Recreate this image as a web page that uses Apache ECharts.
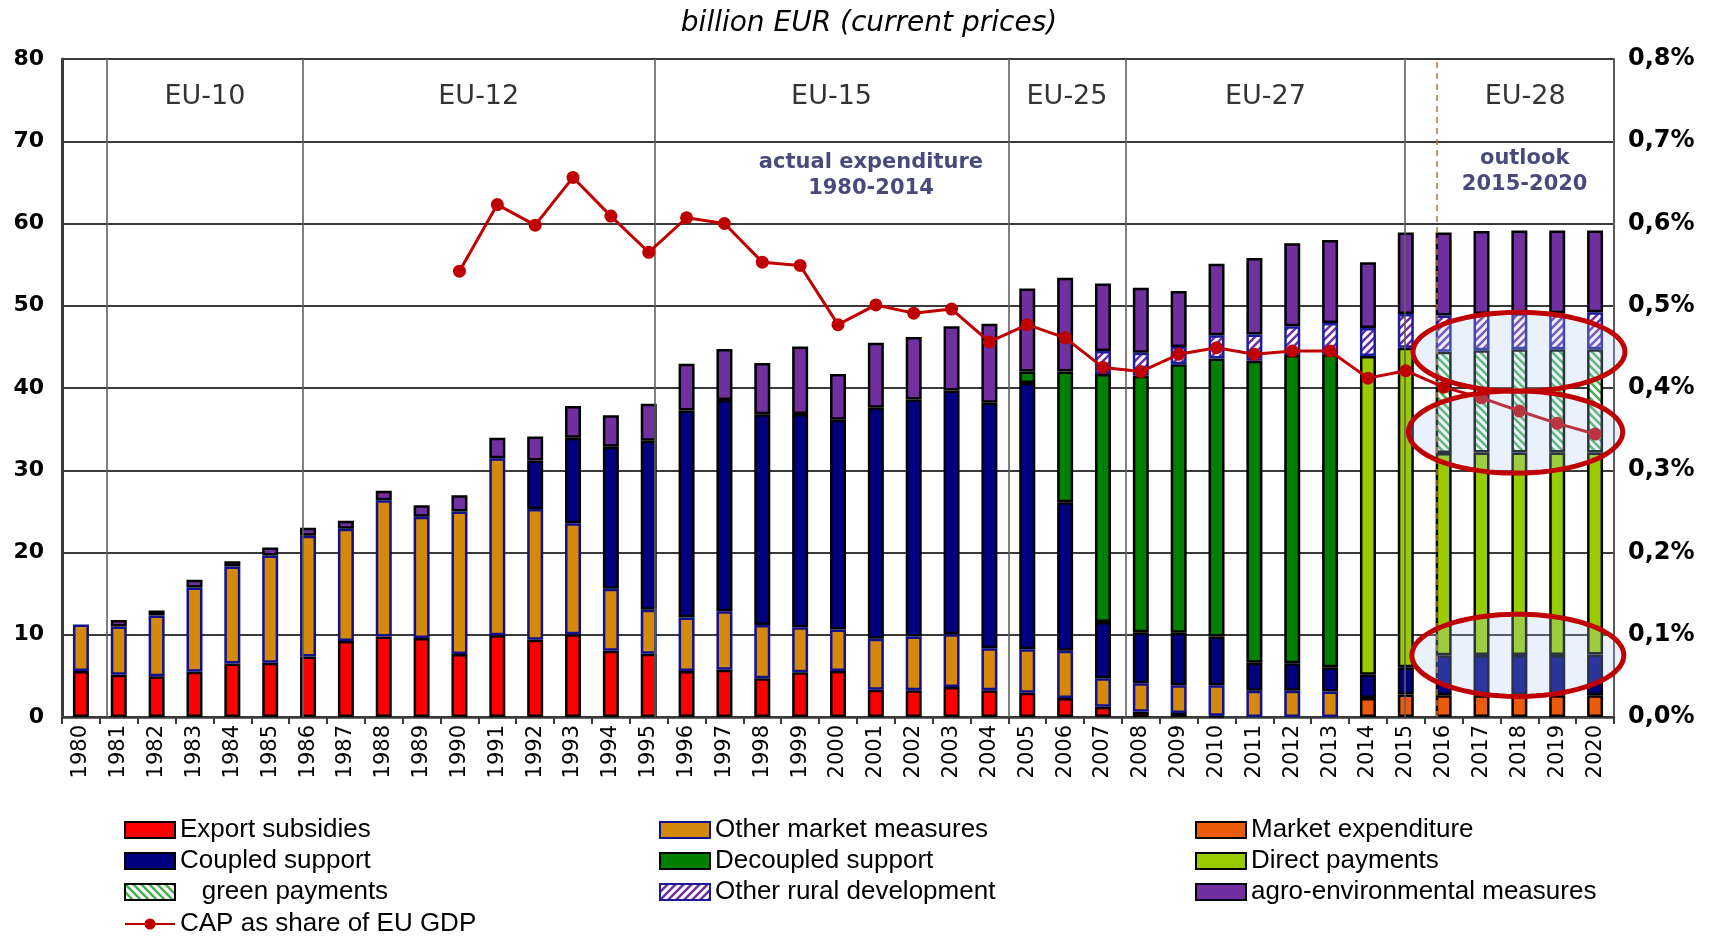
<!DOCTYPE html>
<html><head><meta charset="utf-8">
<script src="https://cdn.jsdelivr.net/npm/echarts@6/dist/echarts.min.js"></script>
<style>html,body{margin:0;padding:0;background:#fff}#c{width:1714px;height:936px}</style>
</head><body><div id="c"></div>
<script>
const years = ['1980','1981','1982','1983','1984','1985','1986','1987','1988','1989',
  '1990','1991','1992','1993','1994','1995','1996','1997','1998','1999',
  '2000','2001','2002','2003','2004','2005','2006','2007','2008','2009',
  '2010','2011','2012','2013','2014','2015','2016','2017','2018','2019','2020'];

const exportSubsidies = [5.6,5.15,4.95,5.5,6.5,6.6,7.35,9.25,9.8,9.6,
  7.65,9.95,9.4,10.05,8.05,7.7,5.6,5.75,4.7,5.45,
  5.6,3.3,3.25,3.65,3.25,2.95,2.3,1.25,0.65,0.5,
  0.15,null,null,null,null,null,null,null,null,null,null];
const marketExpenditure = [null,null,null,null,null,null,null,null,null,null,
  null,null,null,null,null,null,null,null,null,null,
  null,null,null,null,null,null,null,null,null,null,
  null,null,null,null,2.3,2.75,2.65,2.65,2.65,2.65,2.65];
const otherMarketMeasures = [5.65,5.85,7.4,10.25,11.8,13.05,14.7,13.65,16.55,14.75,
  17.35,21.5,15.9,13.5,7.55,5.35,6.5,7.1,6.5,5.45,
  5.05,6.2,6.55,6.4,5.1,5.3,5.75,3.45,3.45,3.35,
  3.7,3.2,3.2,3.1,null,null,null,null,null,null,null];
const coupledSupport = [null,null,null,null,null,null,null,null,null,null,
  null,null,5.9,10.4,17.25,20.55,25.15,25.7,25.6,25.95,
  25.5,28.1,28.8,29.65,29.85,32.35,18.05,6.85,6.2,6.4,
  5.95,3.4,3.35,2.95,2.85,3.3,4.85,4.9,4.9,4.9,4.95];
const decoupledSupport = [null,null,null,null,null,null,null,null,null,null,
  null,null,null,null,null,null,null,null,null,null,
  null,null,null,null,null,1.4,15.9,30.15,31.2,32.65,
  33.8,36.7,37.45,38.05,null,null,null,null,null,null,null];
const directPayments = [null,null,null,null,null,null,null,null,null,null,
  null,null,null,null,null,null,null,null,null,null,
  null,null,null,null,null,null,null,null,null,null,
  null,null,null,null,38.75,38.85,24.6,24.6,24.6,24.6,24.55];
const greenPayments = [null,null,null,null,null,null,null,null,null,null,
  null,null,null,null,null,null,null,null,null,null,
  null,null,null,null,null,null,null,null,null,null,
  null,null,null,null,null,null,12.3,12.45,12.55,12.55,12.55];
const otherRuralDev = [null,null,null,null,null,null,null,null,null,null,
  null,null,null,null,null,null,null,null,null,null,
  null,null,null,null,null,null,null,2.8,2.8,2.1,
  2.8,3.2,3.5,3.8,3.4,4.1,4.4,4.4,4.4,4.4,4.5];
const agroEnv = [null,0.8,0.6,0.95,0.65,0.95,0.95,0.95,1.15,1.4,
  1.95,2.5,2.9,3.85,3.85,4.5,5.7,6.2,6.25,8.2,
  5.55,7.9,7.6,7.8,9.6,10.1,11.4,8.2,7.9,6.8,
  8.7,9.3,10.1,10.1,8.0,9.9,10.1,10.1,10.05,10.05,9.95];
const capShareGDP = [null,null,null,null,null,null,null,null,null,null,
  0.542,0.623,0.598,0.656,0.609,0.565,0.607,0.600,0.553,0.549,
  0.477,0.501,0.491,0.496,0.456,0.477,0.461,0.425,0.420,0.441,
  0.449,0.441,0.445,0.445,0.412,0.421,0.401,0.388,0.372,0.357,0.344];

// enlargement periods (boundaries in category-index units)
const periodNames = ['EU-10','EU-12','EU-15','EU-25','EU-27','EU-28'];
const periodBounds = [1.19, 6.36, 15.66, 25.0, 28.1, 35.48, 41];
const outlookStart = 36.31;
const leftTicks = [0,10,20,30,40,50,60,70,80];

// ---------- styling ----------
const FONT = 'DejaVu Sans';
function hatch(fg, dir) {
  const c = document.createElement('canvas');
  c.width = 8; c.height = 8;
  const g = c.getContext('2d');
  g.fillStyle = '#ffffff'; g.fillRect(0, 0, 8, 8);
  g.strokeStyle = fg; g.lineWidth = 2.6;
  g.beginPath();
  if (dir === '/') {
    g.moveTo(-4, 4); g.lineTo(4, -4);
    g.moveTo(0, 8); g.lineTo(8, 0);
    g.moveTo(4, 12); g.lineTo(12, 4);
  } else {
    g.moveTo(-4, 4); g.lineTo(4, 12);
    g.moveTo(0, 0); g.lineTo(8, 8);
    g.moveTo(4, -4); g.lineTo(12, 4);
  }
  g.stroke();
  return c;
}
const greenHatch = { image: hatch('#4CAF50', '\\'), repeat: 'repeat' };
const purpleHatch = { image: hatch('#7030A0', '/'), repeat: 'repeat' };

function barSeries(name, data, color, border) {
  return {
    name, type: 'bar', stack: 'cap', data,
    barWidth: 16,
    itemStyle: { color, borderColor: border || '#000000', borderWidth: 2.5 },
    emphasis: { disabled: true }
  };
}

const chart = echarts.init(document.getElementById('c'), null, { renderer: 'canvas' });

const helperData = periodNames.map((n, i) => {
  const a = (i === periodNames.length - 1) ? outlookStart : periodBounds[i];
  const b = periodBounds[i + 1];
  return { value: [(a + b) / 2, 75.4], name: n,
    label: { fontSize: 27, color: '#000', fontFamily: FONT } };
});
helperData.push({ value: [21.37, 65.8], name: 'actual expenditure\n1980-2014',
  label: { fontSize: 21, fontWeight: 'bold', color: '#1C1C5C', fontFamily: FONT, lineHeight: 26 } });
helperData.push({ value: [38.64, 66.3], name: 'outlook\n2015-2020',
  label: { fontSize: 21, fontWeight: 'bold', color: '#1C1C5C', fontFamily: FONT, lineHeight: 26 } });

const ellipses = [[38.49, 44.4, 2.8, 4.8], [38.4, 34.65, 2.83, 5.0], [38.46, 7.5, 2.8, 5.0]];

const sepLines = periodBounds.slice(1, -1).map(v => ({ xAxis: v }));
sepLines.unshift({ xAxis: periodBounds[0] });
sepLines.push({ xAxis: outlookStart, lineStyle: { color: '#B87333', type: [6, 5], width: 1.5 } });

const legendText = { fontFamily: 'Liberation Sans', fontSize: 26, color: '#000', lineHeight: 26 };
const legendBase = {
  orient: 'vertical', icon: 'rect', itemWidth: 50, itemHeight: 16, itemGap: 5,
  selectedMode: false, padding: 0, textStyle: legendText
};

chart.setOption({
  animation: false,
  backgroundColor: '#ffffff',
  title: {
    text: 'billion EUR (current prices)', left: 864, top: 5, textAlign: 'center',
    textStyle: { fontFamily: FONT, fontStyle: 'italic', fontWeight: 'normal', fontSize: 28, color: '#000' }
  },
  legend: [
    Object.assign({}, legendBase, { left: 124, top: 817,
      data: ['Export subsidies', 'Coupled support', 'green payments'],
      formatter: n => n === 'green payments' ? '   ' + n : n }),
    { orient: 'vertical', left: 124, top: 911, padding: 0, selectedMode: false,
      itemWidth: 50, itemHeight: 14, textStyle: legendText,
      data: ['CAP as share of EU GDP'] },
    Object.assign({}, legendBase, { left: 659, top: 817,
      data: ['Other market measures', 'Decoupled support', 'Other rural development'] }),
    Object.assign({}, legendBase, { left: 1195, top: 817,
      data: ['Market expenditure', 'Direct payments', 'agro-environmental measures'] })
  ],
  grid: { left: 62, right: 100, top: 59, bottom: 219, containLabel: false },
  xAxis: [{
    type: 'category', data: years, boundaryGap: true,
    axisLine: { lineStyle: { color: '#3a3a3a', width: 2.5 } },
    axisTick: { show: true, length: 7, lineStyle: { color: '#3a3a3a', width: 2 } },
    axisLabel: { rotate: 90, fontFamily: FONT, fontSize: 21, color: '#000', margin: 8 },
    splitLine: { show: false }
  }, {
    type: 'value', min: 0, max: 41, show: false
  }],
  yAxis: [{
    type: 'value', min: 0, max: 80, interval: 10,
    axisLine: { show: true, lineStyle: { color: '#3a3a3a', width: 3 } },
    axisTick: { show: false },
    axisLabel: { fontFamily: FONT, fontWeight: 'bold', fontSize: 22, color: '#000', margin: 18,
      customValues: leftTicks },
    splitLine: { show: true, lineStyle: { color: '#3a3a3a', width: 2 } }
  }, {
    type: 'value', min: 0, max: 0.8, interval: 0.1, position: 'right',
    axisLine: { show: true, lineStyle: { color: '#5a5a5a', width: 2 } },
    axisTick: { show: false },
    axisLabel: { fontFamily: FONT, fontWeight: 'bold', fontSize: 24, color: '#000', margin: 14,
      formatter: v => v.toFixed(1).replace('.', ',') + '%' },
    splitLine: { show: false }
  }],
  series: [
    barSeries('Export subsidies', exportSubsidies, '#FF0000', '#000000'),
    barSeries('Market expenditure', marketExpenditure, '#EA5B0C', '#000000'),
    barSeries('Other market measures', otherMarketMeasures, '#D4890A', '#10108A'),
    barSeries('Coupled support', coupledSupport, '#000080', '#000000'),
    barSeries('Decoupled support', decoupledSupport, '#008000', '#000000'),
    barSeries('Direct payments', directPayments, '#99CC00', '#000000'),
    barSeries('green payments', greenPayments, greenHatch, '#000000'),
    barSeries('Other rural development', otherRuralDev, purpleHatch, '#1C1C9C'),
    barSeries('agro-environmental measures', agroEnv, '#7030A0', '#000000'),
    {
      name: 'CAP as share of EU GDP', type: 'line', yAxisIndex: 1, data: capShareGDP,
      symbol: 'circle', symbolSize: 13, z: 5,
      lineStyle: { color: '#C00000', width: 3 },
      itemStyle: { color: '#C00000' },
      emphasis: { disabled: true }
    },
    {
      name: 'helper', type: 'scatter', xAxisIndex: 1, yAxisIndex: 0,
      data: helperData, symbolSize: 0, silent: true, z: 1,
      label: { show: true, position: 'inside', formatter: p => p.name },
      markLine: {
        silent: true, symbol: ['none', 'none'], label: { show: false },
        lineStyle: { color: '#606060', type: 'solid', width: 1.6 },
        data: sepLines
      }
    },
    {
      name: 'ellipses', type: 'custom', xAxisIndex: 1, yAxisIndex: 0, data: ellipses,
      z: 20, clip: false, silent: true,
      renderItem: (params, api) => {
        const c = api.coord([api.value(0), api.value(1)]);
        const s = api.size([api.value(2), api.value(3)]);
        const pts = [];
        for (let i = 0; i < 90; i++) {
          const t = i / 90 * 2 * Math.PI;
          pts.push([c[0] + s[0] * Math.cos(t), c[1] + s[1] * Math.sin(t)]);
        }
        return { type: 'polygon', shape: { points: pts },
          style: { fill: 'rgba(170,205,245,0.26)', stroke: '#C00000', lineWidth: 5 } };
      }
    }
  ]
});
</script>
</body></html>
